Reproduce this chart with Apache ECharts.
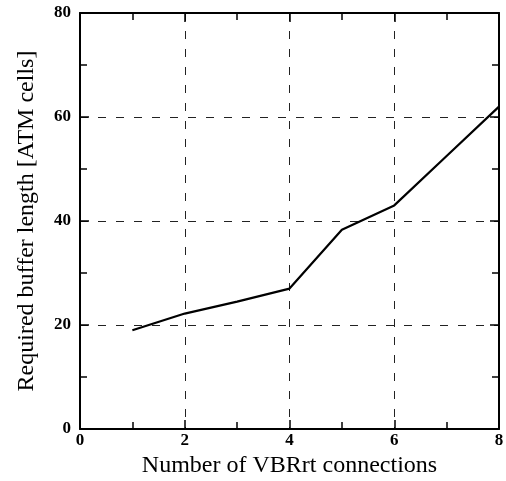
<!DOCTYPE html>
<html>
<head>
<meta charset="utf-8">
<script src="https://cdn.jsdelivr.net/npm/echarts@6/dist/echarts.min.js"></script>
<style>
html,body{margin:0;padding:0;background:#fff;}
#c{width:506px;height:481px;}
</style>
</head>
<body>
<div id="c"></div>
<script>
const connections = [1, 2, 3, 4, 5, 6, 7, 8];
const bufferLength = [19, 22.2, 24.5, 27, 38.3, 43, 52.5, 62];
const xTicks = [0, 2, 4, 6, 8];
const yTicks = [0, 20, 40, 60, 80];
const xTitle = 'Number of VBRrt connections';
const yTitle = 'Required buffer length [ATM cells]';

const FONT = '"Liberation Serif", "DejaVu Serif", serif';
const chart = echarts.init(document.getElementById('c'), null, {renderer: 'canvas'});

const tickStyle = {show: true, inside: true, length: 9, lineStyle: {color: '#000', width: 1.5}};
const minorStyle = {show: true, splitNumber: 2, length: 7, lineStyle: {color: '#000', width: 1.5}};
const gridDash = {show: true, lineStyle: {color: '#222', width: 1, type: [8, 10]}};

chart.setOption({
  animation: false,
  backgroundColor: '#fff',
  grid: {left: 80, right: 7, top: 13, bottom: 52, containLabel: false, outerBoundsMode: 'none'},
  xAxis: [{
    type: 'value', min: xTicks[0], max: xTicks[xTicks.length - 1], interval: 2,
    position: 'bottom',
    name: xTitle, nameLocation: 'middle', nameGap: 19,
    nameTextStyle: {fontFamily: FONT, fontSize: 24, color: '#000'},
    axisLine: {show: true, onZero: false, lineStyle: {color: '#000', width: 2}},
    axisTick: tickStyle, minorTick: minorStyle,
    axisLabel: {fontFamily: FONT, fontSize: 17, fontWeight: 'bold', color: '#000', margin: 3},
    splitLine: gridDash, minorSplitLine: {show: false}
  }, {
    type: 'value', min: xTicks[0], max: xTicks[xTicks.length - 1], interval: 2,
    position: 'top',
    axisLine: {show: true, onZero: false, lineStyle: {color: '#000', width: 2}},
    axisTick: tickStyle, minorTick: minorStyle,
    axisLabel: {show: false}, splitLine: {show: false}
  }],
  yAxis: [{
    type: 'value', min: yTicks[0], max: yTicks[yTicks.length - 1], interval: 20,
    position: 'left',
    name: yTitle, nameLocation: 'middle', nameGap: 41,
    nameTextStyle: {fontFamily: FONT, fontSize: 24, color: '#000'},
    axisLine: {show: true, onZero: false, lineStyle: {color: '#000', width: 2}},
    axisTick: tickStyle, minorTick: minorStyle,
    axisLabel: {fontFamily: FONT, fontSize: 17, fontWeight: 'bold', color: '#000', margin: 9},
    splitLine: gridDash, minorSplitLine: {show: false}
  }, {
    type: 'value', min: yTicks[0], max: yTicks[yTicks.length - 1], interval: 20,
    position: 'right',
    axisLine: {show: true, onZero: false, lineStyle: {color: '#000', width: 2}},
    axisTick: tickStyle, minorTick: minorStyle,
    axisLabel: {show: false}, splitLine: {show: false}
  }],
  series: [{
    type: 'line',
    xAxisIndex: 0, yAxisIndex: 0,
    data: connections.map((x, i) => [x, bufferLength[i]]),
    showSymbol: false, symbol: 'none',
    lineStyle: {color: '#000', width: 2.2},
    z: 5
  }]
});
</script>
</body>
</html>
